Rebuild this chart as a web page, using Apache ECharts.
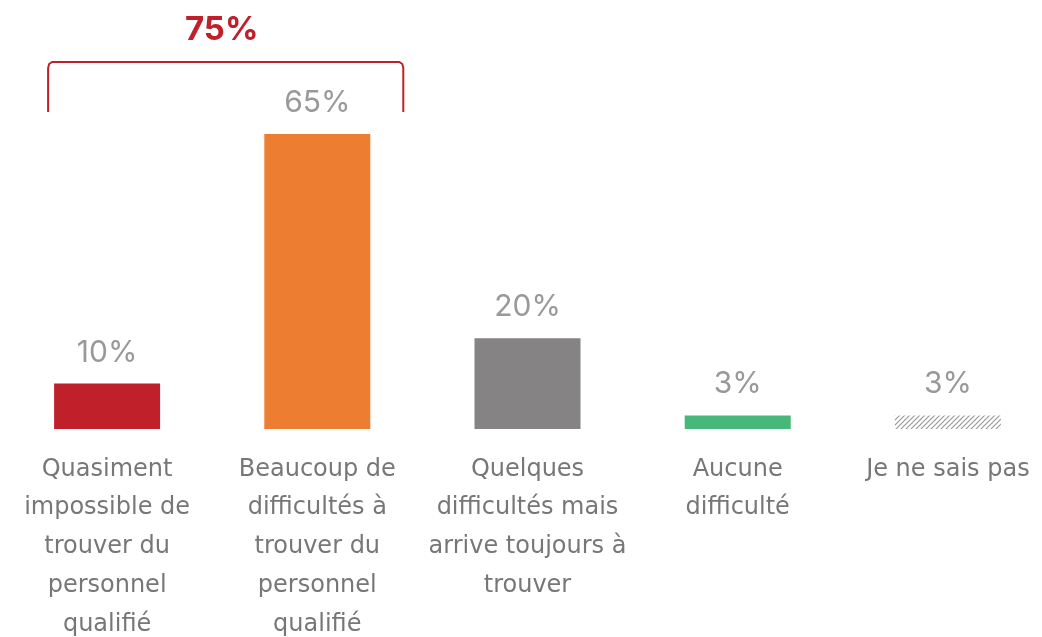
<!DOCTYPE html>
<html lang="fr">
<head>
<meta charset="UTF-8">
<title>Difficultés de recrutement</title>
<script src="https://cdn.jsdelivr.net/npm/echarts@6/dist/echarts.min.js"></script>
<style>
  html, body { margin: 0; padding: 0; background: #fff; }
  #main { width: 1042px; height: 637px; }
</style>
</head>
<body>
<div id="main"></div>
<script>
// données
var categories = [
  'Quasiment\nimpossible de\ntrouver du\npersonnel\nqualifié',
  'Beaucoup de\ndifficultés à\ntrouver du\npersonnel\nqualifié',
  'Quelques\ndifficultés mais\narrive toujours à\ntrouver',
  'Aucune\ndifficulté',
  'Je ne sais pas'
];
var values = [10, 65, 20, 3, 3];
var barColors = ['#C0202A', '#ED7D31', '#858383', '#47B87A', 'hatch'];
var totalLabel = '75%';   // 10 + 65

// motif hachuré pour "Je ne sais pas"
function hatchPattern() {
  var c = document.createElement('canvas');
  c.width = 5; c.height = 5;
  var ctx = c.getContext('2d');
  ctx.fillStyle = '#fff';
  ctx.fillRect(0, 0, 5, 5);
  ctx.strokeStyle = '#9a9a9a';
  ctx.lineWidth = 1.2;
  ctx.beginPath();
  ctx.moveTo(0, 5); ctx.lineTo(5, 0);
  ctx.moveTo(-2.5, 2.5); ctx.lineTo(2.5, -2.5);
  ctx.moveTo(2.5, 7.5); ctx.lineTo(7.5, 2.5);
  ctx.stroke();
  return { image: c, repeat: 'repeat' };
}

var myChart = echarts.init(document.getElementById('main'));
var font = 'Inter, "Open Sans", sans-serif';
var catFont = '"DejaVu Sans", sans-serif';

var option = {
  animation: false,
  grid: { left: 2, right: -11, top: 134, bottom: 208, containLabel: false, outerBoundsMode: 'none' },
  xAxis: {
    type: 'category',
    data: categories,
    axisLine: { show: false },
    axisTick: { show: false },
    axisLabel: {
      interval: 0,
      margin: 21,
      color: '#777',
      fontSize: 24,
      lineHeight: 38.8,
      fontFamily: catFont
    }
  },
  yAxis: {
    type: 'value',
    min: 0,
    max: 65,
    show: false,
    splitLine: { show: false }
  },
  series: [{
    type: 'bar',
    barWidth: 106,
    data: values.map(function (v, i) {
      return {
        value: v,
        itemStyle: { color: barColors[i] === 'hatch' ? hatchPattern() : barColors[i] }
      };
    }),
    label: {
      show: true,
      position: 'top',
      distance: 16,
      formatter: '{c}%',
      color: '#999',
      fontSize: 30,
      fontFamily: font
    }
  }]
};
myChart.setOption(option);

// accolade au-dessus des deux premières barres
var p0 = myChart.convertToPixel({ xAxisIndex: 0 }, categories[0]);
var p1 = myChart.convertToPixel({ xAxisIndex: 0 }, categories[1]);
var x0 = p0 - 59, x1 = p1 + 86, yTop = 62, yBot = 112;
myChart.setOption({
  graphic: [{
    type: 'polyline',
    shape: {
      points: [[x0, yBot], [x0, yTop + 6], [x0 + 1, yTop + 2], [x0 + 4, yTop],
               [x1 - 4, yTop], [x1 - 1, yTop + 2], [x1, yTop + 6], [x1, yBot]]
    },
    style: { fill: null, stroke: '#C0202A', lineWidth: 2 }
  }, {
    type: 'text',
    x: (x0 + x1) / 2 - 4,
    y: 30,
    style: {
      text: totalLabel,
      fill: '#C0202A',
      font: 'bold 33px ' + font,
      textAlign: 'center',
      textVerticalAlign: 'middle'
    }
  }]
});
</script>
</body>
</html>
